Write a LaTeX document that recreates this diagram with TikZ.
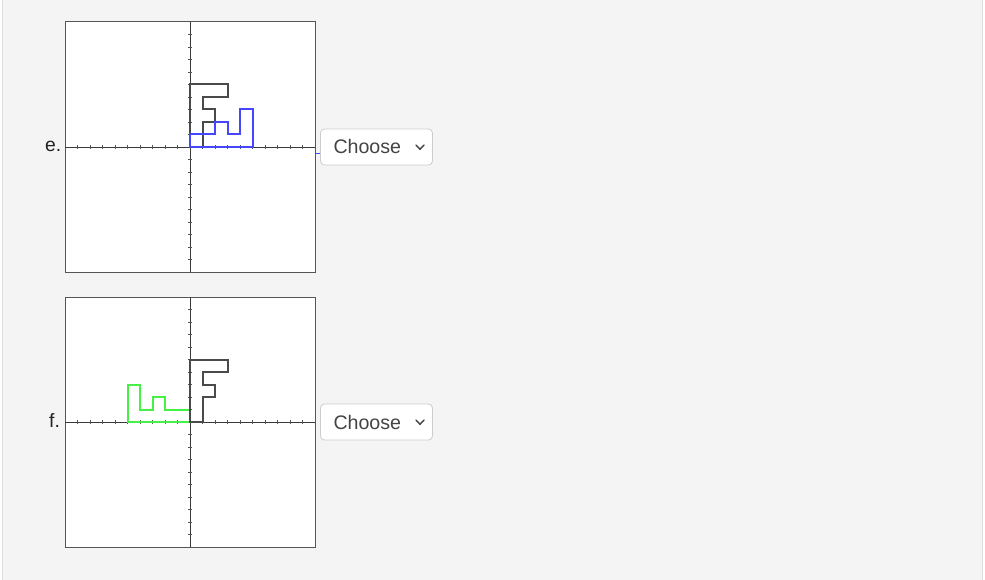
\documentclass[tikz,border=0pt]{standalone}
\usepackage{fontspec}
\setmainfont{Liberation Sans}
\definecolor{pagebg}{HTML}{F4F4F4}
\definecolor{pageedge}{HTML}{DEDEDE}
\definecolor{boxgray}{HTML}{555555}
\definecolor{axisgray}{HTML}{3A3A3A}
\definecolor{tickgray}{HTML}{555555}
\definecolor{fgray}{HTML}{4A4A4A}
\definecolor{fblue}{HTML}{4646FF}
\definecolor{fgreen}{HTML}{46F046}
\definecolor{selborder}{HTML}{CCCCCC}
\definecolor{seltext}{HTML}{444444}
\definecolor{labeltext}{HTML}{222222}
\begin{document}
\begin{tikzpicture}[x=1pt,y=-1pt,
  plotbox/.style={draw=boxgray, line width=1pt, fill=white},
  axisline/.style={draw=axisgray, line width=0.9pt},
  tickmark/.style={draw=tickgray, line width=0.8pt},
  fshape/.style={draw=fgray, line width=2pt, line join=miter},
  blueshape/.style={draw=fblue, line width=2pt, line join=miter},
  greenshape/.style={draw=fgreen, line width=2pt, line join=miter},
  dropdown/.style={draw=selborder, line width=0.8pt, fill=white, rounded corners=4pt,
     minimum width=112pt, minimum height=36pt, inner sep=0pt},
  seltxt/.style={anchor=base west, inner sep=0pt, text=seltext, font=\fontsize{19.6}{22}\selectfont},
  lbltxt/.style={anchor=base west, inner sep=0pt, text=labeltext, font=\fontsize{19.3}{22}\selectfont},
  chevron/.style={draw=seltext, line width=1.4pt, line cap=round, line join=round}
]
\useasboundingbox (0,0) rectangle (985,580);
\fill[white] (0,0) rectangle (985,580);
\fill[pagebg] (2.5,0) rectangle (982.5,580);
\draw[pageedge, line width=0.8pt] (2.5,0) -- (2.5,580);
\draw[pageedge, line width=0.8pt] (982.5,0) -- (982.5,580);

% ---------- plot e ----------
\begin{scope}[shift={(190,147)}, x=12.5pt, y=12.5pt]
  \draw[plotbox] (-10,-10) rectangle (10,10);
  \draw[axisline] (-10,0) -- (10,0);
  \draw[axisline] (0,-10) -- (0,10);
  \foreach \i in {-9,...,-1,1,2,...,9} {
    \draw[tickmark] (\i,-0.13) -- (\i,0.13);
    \draw[tickmark] (-0.13,\i) -- (0.13,\i);
  }
  \draw[fshape] (0,0) -- (0,5) -- (3,5) -- (3,4) -- (1,4) -- (1,3) -- (2,3) -- (2,2) -- (1,2) -- (1,0) -- cycle;
  \draw[blueshape] (0,0) -- (5,0) -- (5,3) -- (4,3) -- (4,1) -- (3,1) -- (3,2) -- (2,2) -- (2,1) -- (0,1) -- cycle;
\end{scope}
\draw[fblue, line width=0.8pt] (315,153) -- (319.5,153);
\node[lbltxt] (lble) at (45,152) {e.};
\node[dropdown] (sele) at (376.5,147) {};
\node[seltxt] (txte) at (333.3,154) {Choose};
\coordinate (chae) at (416,145);
\coordinate (chbe) at (420,149.3);
\coordinate (chce) at (424,145);
\draw[chevron] (chae) -- (chbe) -- (chce);

% ---------- plot f ----------
\begin{scope}[shift={(190,422)}, x=12.5pt, y=12.5pt]
  \draw[plotbox] (-10,-10) rectangle (10,10);
  \draw[axisline] (-10,0) -- (10,0);
  \draw[axisline] (0,-10) -- (0,10);
  \foreach \i in {-9,...,-1,1,2,...,9} {
    \draw[tickmark] (\i,-0.13) -- (\i,0.13);
    \draw[tickmark] (-0.13,\i) -- (0.13,\i);
  }
  \draw[greenshape] (0,0) -- (-5,0) -- (-5,3) -- (-4,3) -- (-4,1) -- (-3,1) -- (-3,2) -- (-2,2) -- (-2,1) -- (0,1) -- cycle;
  \draw[fshape] (0,0) -- (0,5) -- (3,5) -- (3,4) -- (1,4) -- (1,3) -- (2,3) -- (2,2) -- (1,2) -- (1,0) -- cycle;
\end{scope}
\node[lbltxt] (lblf) at (49,427) {f.};
\node[dropdown] (self) at (376.5,422) {};
\node[seltxt] (txtf) at (333.3,429) {Choose};
\coordinate (chaf) at (416,420);
\coordinate (chbf) at (420,424.3);
\coordinate (chcf) at (424,420);
\draw[chevron] (chaf) -- (chbf) -- (chcf);
\end{tikzpicture}
\end{document}
